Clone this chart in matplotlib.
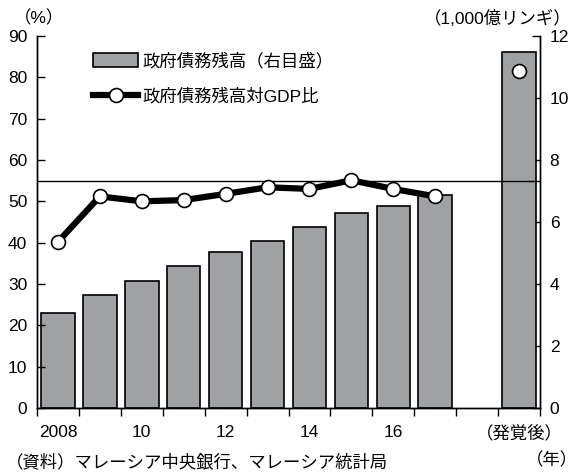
import matplotlib
matplotlib.use("Agg")
import matplotlib.pyplot as plt
from matplotlib.lines import Line2D
from matplotlib.patches import Patch

plt.rcParams['font.family'] = ['Liberation Sans', 'Noto Sans CJK JP', 'DejaVu Sans']

# Government debt data, Malaysia
years = [2008, 2009, 2010, 2011, 2012, 2013, 2014, 2015, 2016, 2017]
debt_amount = [3.07, 3.64, 4.10, 4.57, 5.03, 5.39, 5.85, 6.30, 6.52, 6.87]   # 1,000億リンギ
debt_gdp = [40.2, 51.2, 50.0, 50.3, 51.8, 53.4, 53.0, 55.1, 53.0, 51.2]     # %
after_amount = 11.48
after_gdp = 81.5
ceiling = 55
tick_labels = ['2008', '', '10', '', '12', '', '14', '', '16', '', '', '（発覚後）']

bar_color = '#a0a1a5'

fig = plt.figure(figsize=(5.84, 4.74), dpi=100)
ax = fig.add_axes([37 / 584, 1 - 408 / 474, 503 / 584, 372 / 474])
ax2 = ax.twinx()

xs = list(range(len(years)))
x_after = len(tick_labels) - 1

ax2.bar(xs + [x_after], debt_amount + [after_amount], width=0.8,
        color=bar_color, edgecolor='black', linewidth=1.2, zorder=2)

ax.set_zorder(ax2.get_zorder() + 1)
ax.patch.set_visible(False)

ax.axhline(ceiling, color='black', linewidth=1.0, zorder=3)
ax.plot(xs, debt_gdp, color='black', linewidth=4.5, zorder=4,
        marker='o', markersize=10, markerfacecolor='white',
        markeredgecolor='black', markeredgewidth=1.2)
ax.plot([x_after], [after_gdp], linestyle='none', zorder=4,
        marker='o', markersize=10, markerfacecolor='white',
        markeredgecolor='black', markeredgewidth=1.2)

ax.set_xlim(-0.5, len(tick_labels) - 0.5)
ax.set_ylim(0, 90)
ax2.set_ylim(0, 12)
ax.set_yticks(range(0, 91, 10))
ax2.set_yticks(range(0, 13, 2))

ax.set_xticks(range(len(tick_labels)))
ax.set_xticklabels(tick_labels)
ax.set_xticks([i - 0.5 for i in range(len(tick_labels) + 1)], minor=True)
ax.tick_params(axis='x', which='major', length=0, pad=12, labelsize=12.5)
ax.tick_params(axis='x', which='minor', length=6, direction='out', width=1)

ax.tick_params(axis='y', direction='in', length=6, width=1, labelsize=12.5, pad=7)
ax2.tick_params(axis='y', direction='in', length=6, width=1, labelsize=12.5, pad=7)

for a in (ax, ax2):
    a.spines['top'].set_visible(False)
    for s in a.spines.values():
        s.set_linewidth(1.0)

handles = [Patch(facecolor=bar_color, edgecolor='black', linewidth=1.2),
           Line2D([0], [0], color='black', linewidth=4.5, marker='o', markersize=10,
                  markerfacecolor='white', markeredgecolor='black', markeredgewidth=1.2)]
fig.legend(handles, ['政府債務残高（右目盛）', '政府債務残高対GDP比'],
           loc='upper left', bbox_to_anchor=(81 / 584, 1 - 40 / 474), frameon=False,
           fontsize=12.5, handlelength=2.6, handleheight=0.9, labelspacing=1.1,
           handletextpad=0.25, borderpad=0.2)

fig.text(14 / 584, 1 - 18 / 474, '（%）', fontsize=12.5, va='center', ha='left')
fig.text(572 / 584, 1 - 18 / 474, '（1,000億リンギ）', fontsize=12.5, va='center', ha='right')
fig.text(6 / 584, 1 - 462 / 474, '（資料）マレーシア中央銀行、マレーシア統計局', fontsize=12.5,
         va='center', ha='left')
fig.text(578 / 584, 1 - 460 / 474, '（年）', fontsize=12.5, va='center', ha='right')

fig.savefig('out.png', dpi=100)
